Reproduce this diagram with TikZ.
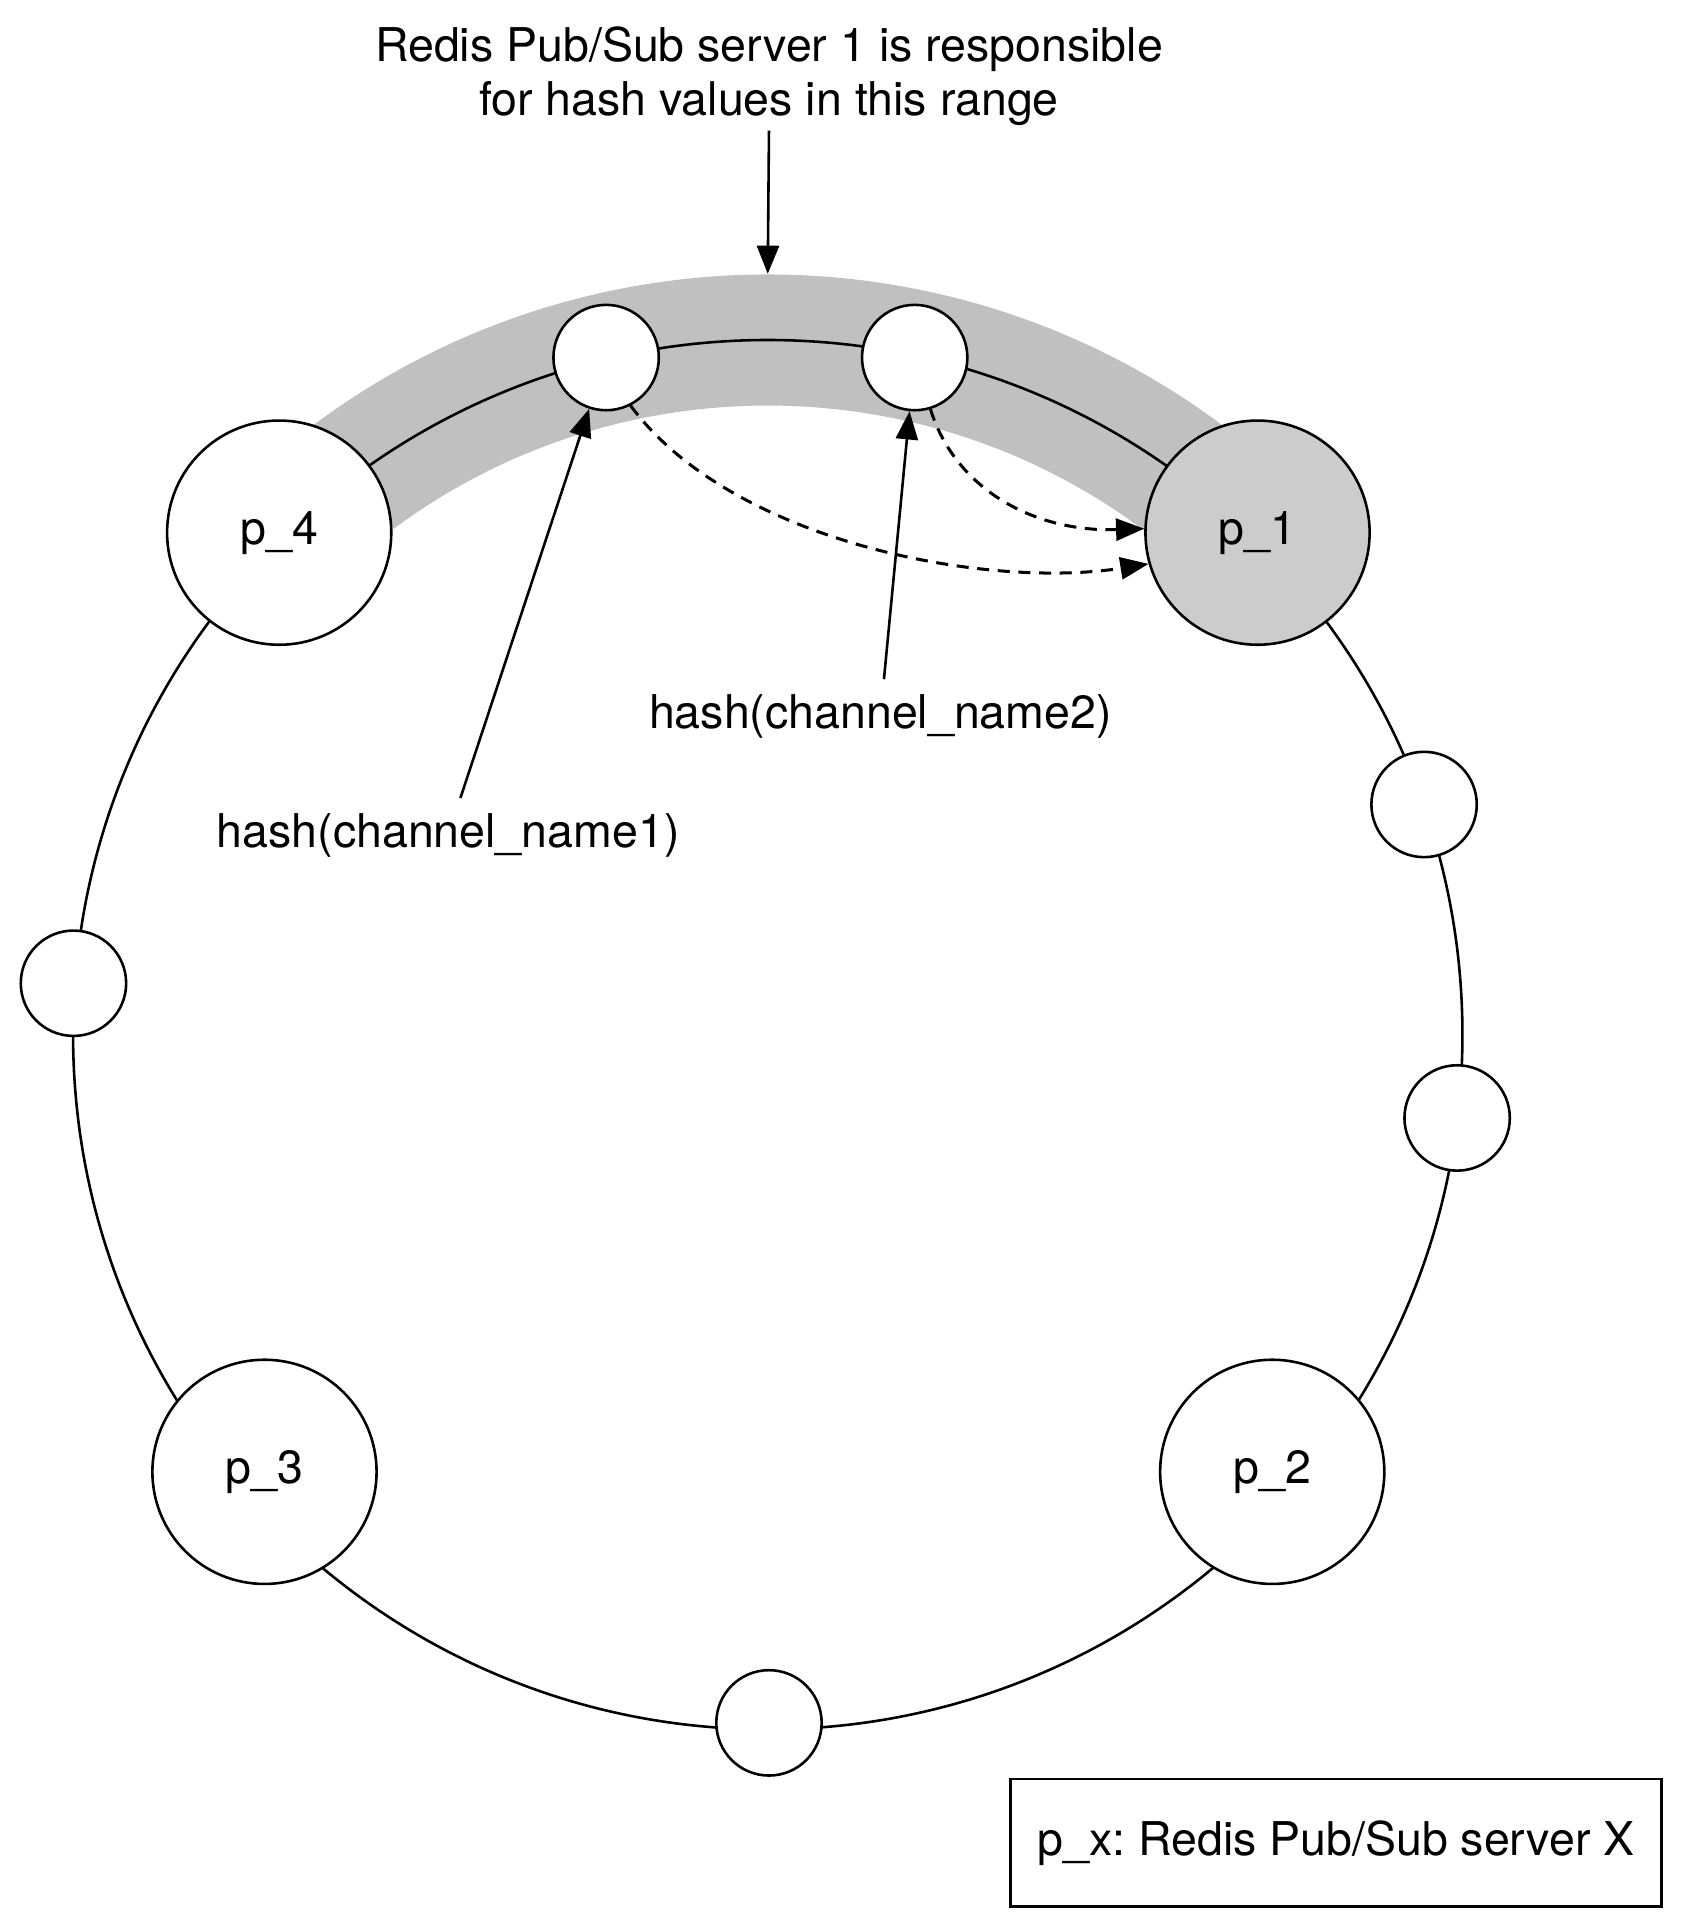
\documentclass[tikz,border=0pt]{standalone}
\usepackage{fontspec}
\setmainfont{TeX Gyre Heros}
\usetikzlibrary{arrows.meta,calc}
\definecolor{BandGray}{RGB}{192,192,192}
\definecolor{ServerGray}{RGB}{204,204,204}
\frenchspacing

\begin{document}
\begin{tikzpicture}[x=0.01cm, y=0.01cm,
    font=\fontsize{10.8}{12.6}\selectfont,
    srv/.style={circle, draw=black, line width=0.6pt, fill=white,
                minimum size=1.83cm, inner sep=0pt},
    vn/.style={circle, draw=black, line width=0.6pt, fill=white,
               minimum size=0.86cm, inner sep=0pt},
    arr/.style={-{Triangle[length=2.3mm, width=1.8mm]}, line width=0.6pt},
    da/.style={arr, line width=0.7pt, dash pattern=on 2.8pt off 2pt}
]
    \useasboundingbox (0,0) rectangle (1374,1568);
    \coordinate (o) at (627,723);
    \coordinate (bandtop) at ($(o)+(90:6.21cm)$);

    % range of server 1 and the hash ring
    \draw[BandGray, line width=1.07cm] ($(o)+(134:5.67cm)$)
        arc[start angle=134, end angle=46, radius=5.67cm];
    \draw[line width=0.6pt] (o) circle[radius=5.67cm];

    % servers
    \node[srv, fill=ServerGray] (p1) at (1027,1133) {p\_1};
    \node[srv] (p2) at (1039,366) {p\_2};
    \node[srv] (p3) at (216,366) {p\_3};
    \node[srv] (p4) at (228,1133) {p\_4};

    % hashed points on the ring
    \node[vn] (c1) at (495,1276) {};
    \node[vn] (c2) at (747,1276) {};
    \node[vn] (r1) at (1163,911) {};
    \node[vn] (r2) at (1190,655) {};
    \node[vn] (b1) at (628,161) {};
    \node[vn] (l1) at (60,765) {};

    % labels
    \node[align=center, inner sep=1pt] (title) at (628,1506)
        {Redis Pub/Sub server 1 is responsible\\for hash values in this range};
    \node (h1) at (366,886) {hash(channel\_name1)};
    \node (h2) at (719,983) {hash(channel\_name2)};
    \node[draw, line width=0.6pt, minimum width=5.31cm, minimum height=1.04cm]
        (key) at (1091,63) {p\_x: Redis Pub/Sub server X};

    \draw[arr] (title.south) -- (bandtop);
    \draw[arr] (h1) -- (c1);
    \draw[arr] (h2) -- (c2);
    \draw[da] (c1.-63) .. controls +(82,-111) and +(-133,-21) .. (p1.196);
    \draw[da] (c2.-73) .. controls +(20,-65) and +(-90,-3) .. (p1.178);
\end{tikzpicture}
\end{document}
